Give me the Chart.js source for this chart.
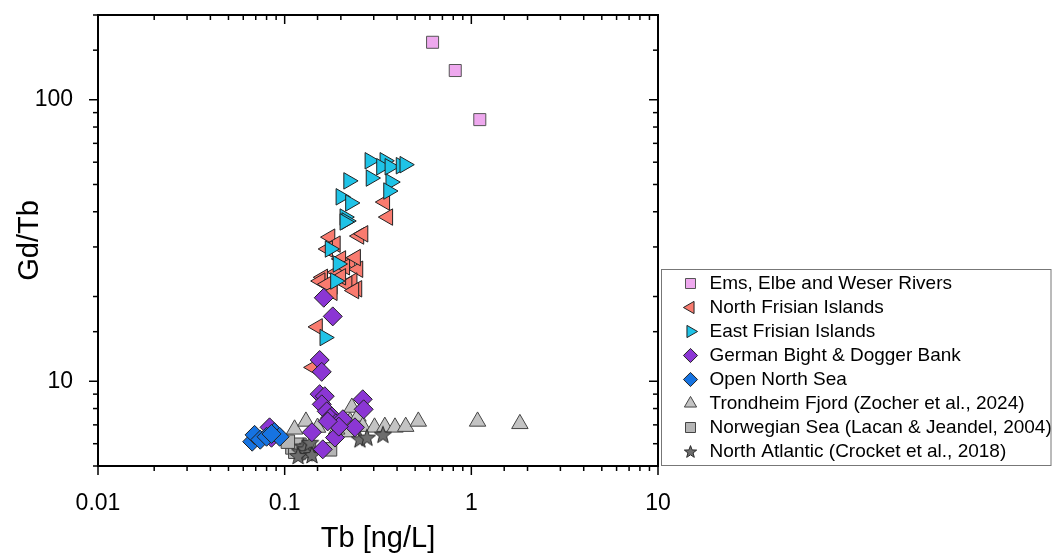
<!DOCTYPE html>
<html><head><meta charset="utf-8">
<script src="https://cdn.jsdelivr.net/npm/chart.js@4.4.1/dist/chart.umd.min.js"></script>
<style>html,body{margin:0;padding:0;background:#fff}#wrap{width:1052px;height:556px}</style>
</head><body><div id="wrap"><canvas id="c" width="1052" height="556"></canvas></div>
<script>
// ---- data: [Tb (ng/L), Gd/Tb] ----
const seriesNames = [
  'Ems, Elbe and Weser Rivers',
  'North Frisian Islands',
  'East Frisian Islands',
  'German Bight & Dogger Bank',
  'Open North Sea',
  'Trondheim Fjord (Zocher et al., 2024)',
  'Norwegian Sea (Lacan & Jeandel, 2004)',
  'North Atlantic (Crocket et al., 2018)'
];
const emsRivers = [[0.62,160],[0.82,127],[1.11,85]];
const northFrisian = [[0.344,43.3],[0.357,38.3],[0.175,32.5],[0.187,30.7],[0.25,32.8],[0.263,33.4],[0.224,26.7],[0.247,25.0],[0.23,22.7],[0.16,23.4],[0.155,22.7],[0.18,21.8],[0.216,22.1],[0.244,21.3],[0.19,24.4],[0.20,27.2],[0.168,22.1],[0.18,20.7],[0.235,21.0],[0.15,15.6],[0.142,11.2],[0.21,25.5],[0.24,27.5],[0.17,29.5],[0.20,23.5]];
const eastFrisian = [[0.286,60.7],[0.344,60.7],[0.33,57.8],[0.366,57.8],[0.42,58.3],[0.44,58.8],[0.22,51.5],[0.29,52.7],[0.37,51.0],[0.36,47.4],[0.20,45.2],[0.225,43.0],[0.21,38.3],[0.215,37.1],[0.21,36.8],[0.175,29.5],[0.193,26.1],[0.187,22.7],[0.164,14.3]];
const germanBight = [[0.162,19.8],[0.181,17.0],[0.154,11.9],[0.158,10.8],[0.154,9.0],[0.164,8.85],[0.158,8.28],[0.168,7.82],[0.179,7.5],[0.175,7.4],[0.188,7.09],[0.205,7.33],[0.238,6.86],[0.262,8.63],[0.265,7.95],[0.14,6.59],[0.186,6.31],[0.16,5.73],[0.083,6.86],[0.085,6.3],[0.195,6.9],[0.17,7.2]];
const openNorthSea = [[0.067,6.1],[0.069,6.45],[0.074,6.2],[0.08,6.35],[0.088,6.6],[0.094,6.35],[0.085,6.5]];
const trondheim = [[0.113,6.75],[0.130,7.2],[0.214,6.6],[0.224,7.2],[0.229,8.07],[0.247,7.5],[0.262,6.9],[0.303,6.86],[0.344,6.9],[0.39,6.86],[0.445,6.9],[0.52,7.2],[1.08,7.2],[1.82,7.06],[0.19,6.75],[0.15,6.85]];
const norwegianSea = [[0.11,5.82],[0.12,5.95],[0.114,5.62],[0.175,5.73],[0.135,5.8],[0.104,6.1]];
const northAtlantic = [[0.121,5.63],[0.126,5.87],[0.128,5.73],[0.132,5.55],[0.137,6.05],[0.14,5.47],[0.118,5.43],[0.253,6.22],[0.276,6.31],[0.336,6.46]];

const xTickLabels = {'-2':'0.01','-1':'0.1','0':'1','1':'10'};
const yTickLabels = {'1':'10','2':'100'};
const xTitle = 'Tb [ng/L]';
const yTitle = 'Gd/Tb';

const FONT = "'Liberation Sans', Arial, sans-serif";
const toXY = a => a.map(p => ({x:p[0], y:p[1]}));

function makeStar(size, fill, stroke){
  const c = document.createElement('canvas'); c.width = c.height = size;
  const g = c.getContext('2d'); const cx = size/2, cy = size/2 + 0.6, R = size/2 - 1, r = R*0.42;
  g.beginPath();
  for (let i = 0; i < 10; i++) { const a = -Math.PI/2 + i*Math.PI/5; const rr = i%2 ? r : R; g.lineTo(cx + rr*Math.cos(a), cy + rr*Math.sin(a)); }
  g.closePath(); g.fillStyle = fill; g.fill(); g.lineWidth = 1; g.strokeStyle = stroke; g.stroke();
  return c;
}
const dataStar = makeStar(20, '#6d6d6d', '#2a2a2a');
const legendStar = makeStar(15, '#6d6d6d', '#2a2a2a');

function ds(i, data, style, rot, bg, bd, radius, order){
  return {label: seriesNames[i], data: toXY(data), pointStyle: style, pointRotation: rot,
    backgroundColor: bg, borderColor: bd, pointBorderWidth: 1, borderWidth: 1,
    pointRadius: radius, pointHoverRadius: radius, showLine: false, order: order};
}

const datasets = [
  ds(0, emsRivers, 'rect', 0, '#EEA8EE', '#555', 8.5, 1),
  ds(1, northFrisian, 'triangle', -90, '#F97B6F', '#222', 9.5, 5),
  ds(2, eastFrisian, 'triangle', 90, '#1FC3E7', '#222', 9.5, 4),
  ds(3, germanBight, 'rectRot', 0, '#8B36D4', '#222', 9.5, 3),
  ds(4, openNorthSea, 'rectRot', 0, '#1673E1', '#222', 9.5, 2),
  ds(5, trondheim, 'triangle', 0, '#C3C3C3', '#444', 9.5, 8),
  ds(6, norwegianSea, 'rect', 0, '#B5B5B5', '#444', 9.5, 7),
  ds(7, northAtlantic, dataStar, 0, '#6d6d6d', '#2a2a2a', 9, 6)
];

const isMajor = v => Math.abs(Math.log10(v) - Math.round(Math.log10(v))) < 1e-6;

const framePlugin = {
  id: 'frame',
  afterDatasetsDraw(chart){
    const {ctx, chartArea: a, scales: {x, y}} = chart;
    ctx.save(); ctx.strokeStyle = '#000'; ctx.lineWidth = 1.5;
    const line = (x1,y1,x2,y2) => { ctx.beginPath(); ctx.moveTo(x1,y1); ctx.lineTo(x2,y2); ctx.stroke(); };
    x.ticks.forEach(t => { const p = x.getPixelForValue(t.value); const L = isMajor(t.value) ? 9 : 5;
      line(p, a.bottom, p, a.bottom + L); line(p, a.top, p, a.top + L); });
    y.ticks.forEach(t => { const p = y.getPixelForValue(t.value); const L = isMajor(t.value) ? 9 : 5;
      line(a.left - L, p, a.left, p); line(a.right - L, p, a.right, p); });
    ctx.lineWidth = 2;
    ctx.strokeRect(a.left, a.top, a.right - a.left, a.bottom - a.top);
    ctx.restore();
  },
  afterDraw(chart){
    const lg = chart.legend; if (!lg || !lg.legendHitBoxes.length) return;
    const hb = lg.legendHitBoxes;
    const top = Math.min(...hb.map(h => h.top)) - 5;
    const ctx = chart.ctx; ctx.save(); ctx.strokeStyle = '#777'; ctx.lineWidth = 1;
    const left = chart.chartArea.right + 3.5;
    ctx.strokeRect(left, top + 0.5, chart.width - 1 - left, chart.chartArea.bottom - 1 - top);
    ctx.restore();
  }
};

new Chart(document.getElementById('c'), {
  type: 'scatter',
  data: {datasets},
  plugins: [framePlugin],
  options: {
    responsive: false, animation: false, devicePixelRatio: 1,
    layout: {padding: {top: 15, left: 0, right: 0, bottom: 0}},
    plugins: {
      tooltip: {enabled: false},
      legend: {
        position: 'right', align: 'end', maxWidth: 376, fullSize: false,
        labels: {
          usePointStyle: true, boxHeight: 10, padding: 5, color: '#000',
          font: {family: FONT, size: 19},
          sort: (a, b) => a.datasetIndex - b.datasetIndex,
          generateLabels(chart){
            const items = Chart.defaults.plugins.legend.labels.generateLabels(chart);
            items.forEach(it => { if (it.datasetIndex === 7) it.pointStyle = legendStar; });
            return items;
          }
        }
      }
    },
    scales: {
      x: {
        type: 'logarithmic', position: 'bottom', min: 0.01, max: 10,
        grid: {display: false}, border: {display: false},
        ticks: {autoSkip: false, maxRotation: 0, padding: 16, color: '#000', font: {family: FONT, size: 23},
          callback: v => isMajor(v) ? (xTickLabels[String(Math.round(Math.log10(v)))] || '') : ''},
        title: {display: true, text: xTitle, color: '#000', font: {family: FONT, size: 29}, padding: {top: 0, bottom: 0}},
        afterFit(s){ s.height = 90; s.paddingLeft = 0; s.paddingRight = 0; }
      },
      y: {
        type: 'logarithmic', position: 'left', min: 5, max: 200,
        grid: {display: false}, border: {display: false},
        ticks: {autoSkip: false, padding: 17, color: '#000', font: {family: FONT, size: 23},
          callback: v => isMajor(v) ? (yTickLabels[String(Math.round(Math.log10(v)))] || '') : ''},
        title: {display: true, text: yTitle, color: '#000', font: {family: FONT, size: 29}, padding: {top: 13, bottom: 0}},
        afterFit(s){ s.width = 98; s.paddingTop = 0; s.paddingBottom = 0; }
      },
      y2: {
        type: 'linear', position: 'right', display: true,
        grid: {display: false}, border: {display: false}, ticks: {display: false},
        afterFit(s){ s.width = 18; s.paddingTop = 0; s.paddingBottom = 0; }
      }
    }
  }
});
</script></body></html>
